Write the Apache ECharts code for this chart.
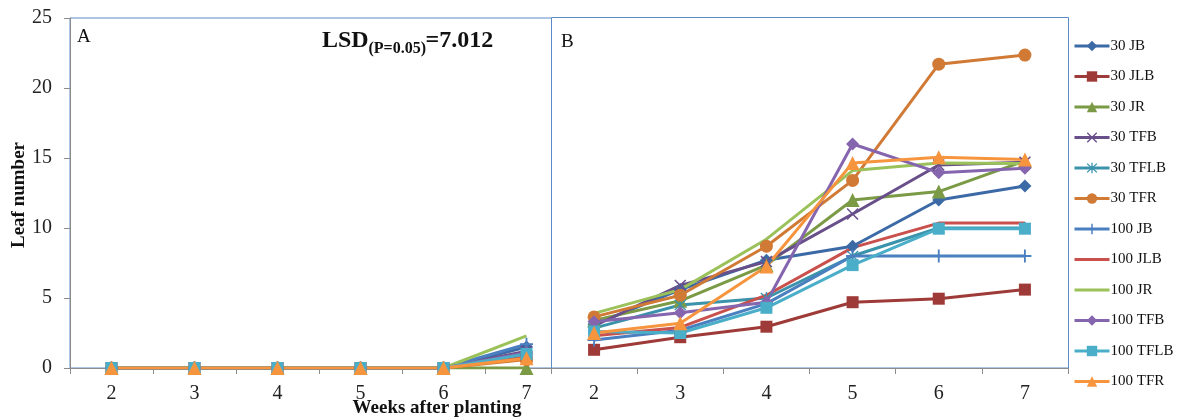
<!DOCTYPE html>
<html>
<head>
<meta charset="utf-8">
<script src="https://cdn.jsdelivr.net/npm/echarts@6/dist/echarts.min.js"></script>
<style>
  html, body { margin: 0; padding: 0; background: #fff; }
  #chart { width: 1192px; height: 419px; }
</style>
</head>
<body>
<div id="chart"></div>
<script>
// Weeks after planting (category axis)
const weeks = ['2', '3', '4', '5', '6', '7'];
const yTicks = [0, 5, 10, 15, 20, 25];

const seriesNames = ['30 JB', '30 JLB', '30 JR', '30 TFB', '30 TFLB', '30 TFR',
                     '100 JB', '100 JLB', '100 JR', '100 TFB', '100 TFLB', '100 TFR'];

// Panel A: leaf number per treatment
const a30JB    = [0, 0, 0, 0, 0, 1.5];
const a30JLB   = [0, 0, 0, 0, 0, 0.8];
const a30JR    = [0, 0, 0, 0, 0, 0];
const a30TFB   = [0, 0, 0, 0, 0, 1.2];
const a30TFLB  = [0, 0, 0, 0, 0, 0.9];
const a30TFR   = [0, 0, 0, 0, 0, 0.6];
const a100JB   = [0, 0, 0, 0, 0, 1.7];
const a100JLB  = [0, 0, 0, 0, 0, 0.9];
const a100JR   = [0, 0, 0, 0, 0, 2.3];
const a100TFB  = [0, 0, 0, 0, 0, 1.1];
const a100TFLB = [0, 0, 0, 0, 0, 1.0];
const a100TFR  = [0, 0, 0, 0, 0, 0.7];

// Panel B: leaf number per treatment
const b30JB    = [3.1, 5.6, 7.7, 8.7, 12.0, 13.0];
const b30JLB   = [1.3, 2.2, 2.95, 4.7, 4.95, 5.6];
const b30JR    = [3.4, 4.8, 7.35, 12.0, 12.6, 14.8];
const b30TFB   = [3.0, 5.9, 7.6, 11.0, 14.5, 14.7];
const b30TFLB  = [2.85, 4.5, 5.0, 8.0, 10.0, 10.0];
const b30TFR   = [3.65, 5.2, 8.7, 13.4, 21.7, 22.35];
const b100JB   = [2.0, 2.7, 4.6, 8.0, 8.0, 8.0];
const b100JLB  = [2.3, 2.9, 5.2, 8.6, 10.35, 10.35];
const b100JR   = [3.9, 5.6, 9.2, 14.1, 14.65, 14.6];
const b100TFB  = [3.3, 3.95, 4.7, 16.0, 13.95, 14.26];
const b100TFLB = [2.6, 2.5, 4.3, 7.35, 9.95, 9.95];
const b100TFR  = [2.5, 3.2, 7.25, 14.65, 15.05, 14.9];

const panelA = [a30JB, a30JLB, a30JR, a30TFB, a30TFLB, a30TFR,
                a100JB, a100JLB, a100JR, a100TFB, a100TFLB, a100TFR];
const panelB = [b30JB, b30JLB, b30JR, b30TFB, b30TFLB, b30TFR,
                b100JB, b100JLB, b100JR, b100TFB, b100TFLB, b100TFR];

const colors = ['#3c6aa6', '#9e3a37', '#7b9a45', '#684f8a', '#3a93ab', '#d07a35',
                '#4a7fc0', '#c9504c', '#9bc25a', '#8565ae', '#4aaec9', '#f7953f'];

// thin-stroke style markers
const PLUS = 'path://M0,4.3H10V5.7H0Z M4.3,0H5.7V10H4.3Z';
const CROSS = 'path://M0.9,0L5,4.1L9.1,0L10,0.9L5.9,5L10,9.1L9.1,10L5,5.9L0.9,10L0,9.1L4.1,5L0,0.9Z';
const STAR = 'path://M0.9,0.5L5,4.3L9.1,0.5L9.8,1.3L5.8,5L9.8,8.7L9.1,9.5L5,5.7L0.9,9.5L0.2,8.7L4.2,5L0.2,1.3Z M4.4,0H5.6V10H4.4Z';
// plain line legend key (tiny corner specks keep the full item box)
const LINE_ONLY = 'path://M0,0L0.01,0L0,0.01Z M34.99,13L35,13L35,12.99Z M0,5H35V8H0Z';

const symbols = ['diamond', 'rect', 'triangle', CROSS, STAR, 'circle',
                 PLUS, 'none', 'none', 'diamond', 'rect', 'triangle'];
const symbolSizes = [13, 12, 14, 12, 12, 13, 13, 0, 0, 13, 12, 14];

const serif = '"Liberation Serif", "DejaVu Serif", serif';
const axisGray = '#8c8c8c';
const frameBlue = '#5b8cc8';

function makeSeries(panel, axisIdx) {
  return panel.map((vals, i) => ({
    name: seriesNames[i],
    type: 'line',
    xAxisIndex: axisIdx,
    yAxisIndex: axisIdx,
    data: vals,
    symbol: symbols[i],
    symbolSize: symbolSizes[i],
    showSymbol: symbols[i] !== 'none',
    lineStyle: { width: 3, color: colors[i] },
    itemStyle: { color: colors[i] },
    emphasis: { disabled: true },
    animation: false,
    z: 2
  }));
}

const chart = echarts.init(document.getElementById('chart'), null, { renderer: 'canvas' });

const xAxisCommon = {
  type: 'category',
  data: weeks,
  boundaryGap: true,
  axisLine: { lineStyle: { color: axisGray, width: 1 } },
  axisTick: { show: true, length: 6, lineStyle: { color: axisGray } },
  axisLabel: { color: '#222', fontFamily: serif, fontSize: 20, margin: 16 },
  splitLine: { show: false }
};

function legendItems() {
  return seriesNames.map((n, i) => (symbols[i] === 'none' ? { name: n, icon: LINE_ONLY } : { name: n }));
}

// helper: text placed by its alphabetic baseline (canvas middle sits ~0.305em above it)
function baselineText(str, x, baseY, size, bold, align) {
  return {
    type: 'text', z: 10, x: x, y: baseY - 0.305 * size,
    style: { text: str, font: (bold ? 'bold ' : '') + size + 'px ' + serif, fill: '#111', align: align || 'left', verticalAlign: 'middle' }
  };
}

const option = {
  backgroundColor: '#fff',
  animation: false,
  color: colors,
  grid: [
    { left: 70, top: 18, width: 498, height: 350, show: true, borderColor: frameBlue, borderWidth: 1, backgroundColor: 'transparent' },
    { left: 551, top: 18, width: 517, height: 350, show: false }
  ],
  xAxis: [
    Object.assign({}, xAxisCommon, { gridIndex: 0 }),
    Object.assign({}, xAxisCommon, { gridIndex: 1, z: 5 })
  ],
  yAxis: [
    {
      type: 'value', gridIndex: 0, min: yTicks[0], max: yTicks[yTicks.length - 1], interval: 5,
      axisLine: { show: true, lineStyle: { color: axisGray } },
      axisTick: { show: true, length: 6, lineStyle: { color: axisGray } },
      axisLabel: { color: '#222', fontFamily: serif, fontSize: 20, margin: 18 },
      splitLine: { show: false }
    },
    {
      type: 'value', gridIndex: 1, min: yTicks[0], max: yTicks[yTicks.length - 1], interval: 5,
      axisLine: { show: false }, axisTick: { show: false }, axisLabel: { show: false },
      splitLine: { show: false }
    }
  ],
  legend: {
    orient: 'vertical',
    left: 1068,
    top: 33.5,
    itemWidth: 35,
    itemHeight: 13,
    itemGap: 15.5,
    data: legendItems(),
    lineStyle: { width: 3 },
    textStyle: { fontFamily: serif, fontSize: 15, color: '#111', padding: [0, 0, 0, -4] },
    selectedMode: false
  },
  graphic: {
    elements: [
      // panel B background, hides the tail of panel A's axis
      {
        type: 'rect', z: 1,
        shape: { x: 551, y: 16, width: 519, height: 364 },
        style: { fill: '#fff', stroke: null }
      },
      // panel B frame
      {
        type: 'rect', z: 3,
        shape: { x: 551.5, y: 17.5, width: 517, height: 350.5 },
        style: { fill: null, stroke: frameBlue, lineWidth: 1 }
      },
      baselineText('A', 77, 42.7, 19, false),
      baselineText('B', 561, 48, 19, false),
      baselineText('LSD', 322, 48.3, 24, true),
      baselineText('(P=0.05)', 368.5, 53.5, 16, true),
      baselineText('=7.012', 425.5, 48.3, 24, true),
      {
        type: 'text', z: 10, x: 19.2, y: 195, rotation: Math.PI / 2,
        style: { text: 'Leaf number', font: 'bold 19px ' + serif, fill: '#111', align: 'center', verticalAlign: 'middle' }
      },
      baselineText('Weeks after planting', 437, 414, 19, true, 'center')
    ]
  },
  series: makeSeries(panelA, 0).concat(makeSeries(panelB, 1))
};

chart.setOption(option);
</script>
</body>
</html>
